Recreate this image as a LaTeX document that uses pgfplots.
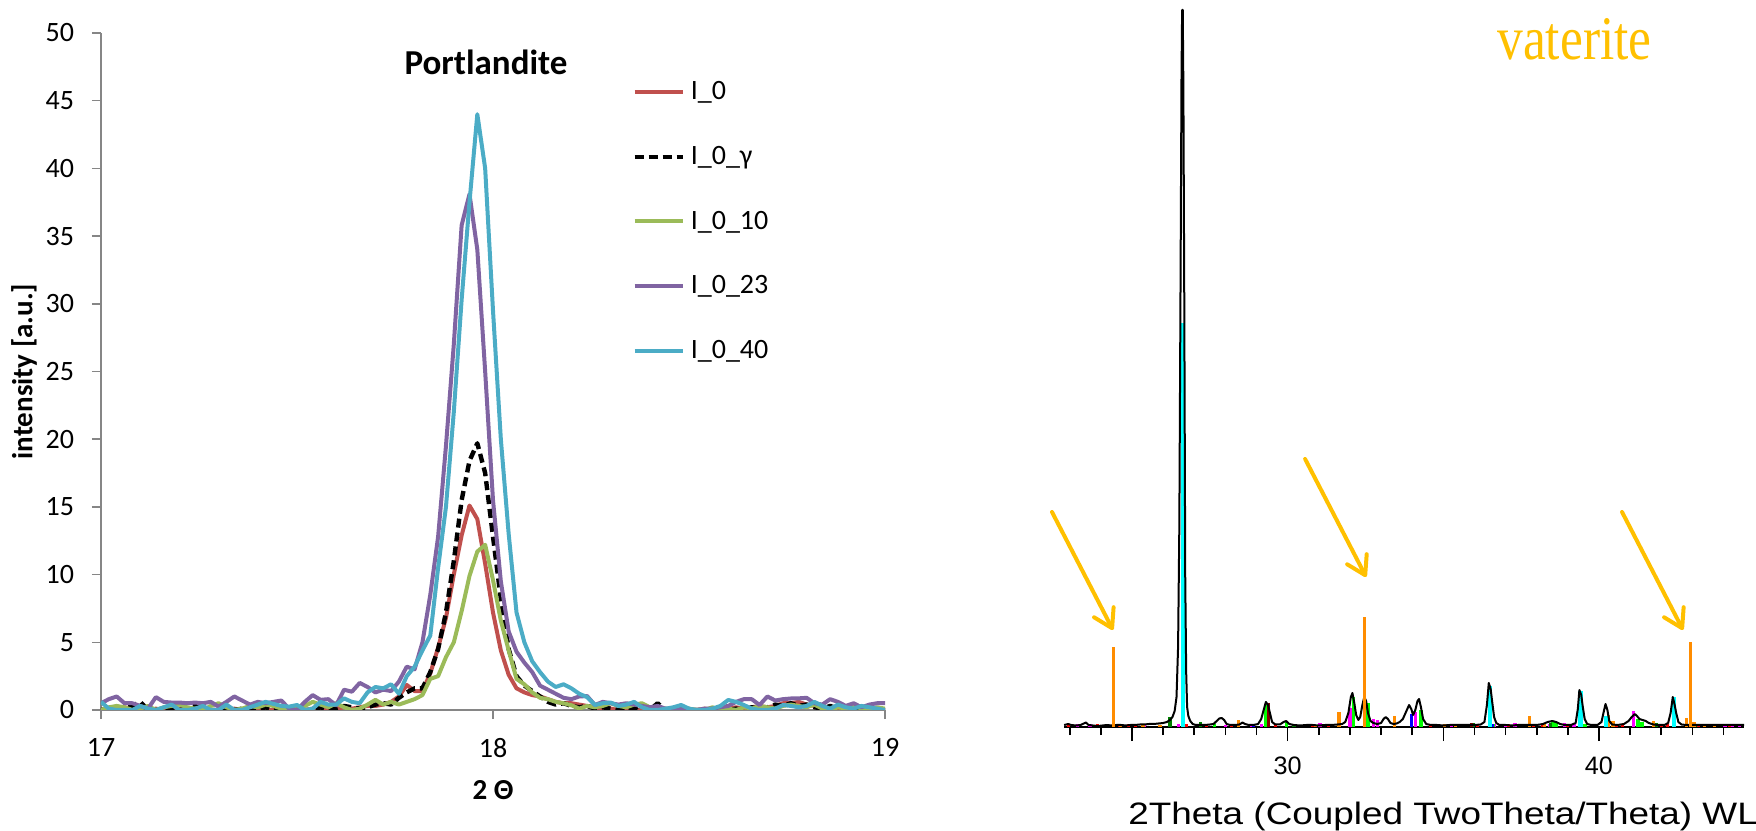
\documentclass[border=0pt]{standalone}
\usepackage{pgfplots}
\pgfplotsset{compat=1.18}
\usepackage{pgfplotstable}
\usepackage{graphicx}
\usepackage{fontspec}
\setmainfont{Carlito}
\newfontfamily\arialf{Liberation Sans}
\newfontfamily\seriff{Liberation Serif}
\usetikzlibrary{arrows.meta}
\definecolor{xlred}{HTML}{C0504D}
\definecolor{xlgreen}{HTML}{9BBB59}
\definecolor{xlpurple}{HTML}{8064A2}
\definecolor{xlcyan}{HTML}{4BACC6}
\definecolor{axgray}{HTML}{868686}
\definecolor{amber}{HTML}{FFC000}
\definecolor{stickorange}{HTML}{FF8C00}
\definecolor{dgreen}{HTML}{008000}
\definecolor{dred}{HTML}{800000}
\definecolor{scyan}{HTML}{00FFFF}
\definecolor{smagenta}{HTML}{FF00FF}
\definecolor{sgreen}{HTML}{00FF00}
\definecolor{sred}{HTML}{FF0000}
\definecolor{sblue}{HTML}{0000FF}

\pgfplotstableread{
x r k g p c
17.00 0.0 0.0 0.0 0.5 0.6
17.02 0.1 0.1 0.2 0.8 0.1
17.04 0.0 0.0 0.3 1.0 0.0
17.06 0.2 0.2 0.2 0.5 0.0
17.08 0.1 0.3 0.0 0.5 0.0
17.10 0.0 0.6 0.1 0.3 0.3
17.12 0.0 0.0 0.3 0.1 0.1
17.14 0.1 0.0 0.0 0.95 0.0
17.16 0.0 0.1 0.2 0.6 0.2
17.18 0.0 0.0 0.3 0.55 0.4
17.20 0.1 0.0 0.4 0.55 0.0
17.22 0.0 0.1 0.2 0.5 0.0
17.24 0.0 0.3 0.1 0.55 0.1
17.26 0.2 0.0 0.0 0.5 0.3
17.28 0.0 0.0 0.3 0.6 0.0
17.30 0.0 0.0 0.5 0.25 0.0
17.32 0.0 0.2 0.2 0.6 0.4
17.34 0.1 0.0 0.0 1.0 0.0
17.36 0.0 0.1 0.1 0.7 0.0
17.38 0.0 0.0 0.3 0.4 0.2
17.40 0.1 0.0 0.2 0.6 0.4
17.42 0.0 0.2 0.4 0.5 0.6
17.44 0.0 0.0 0.3 0.6 0.45
17.46 0.0 0.0 0.1 0.7 0.3
17.48 0.1 0.0 0.0 0.1 0.25
17.50 0.0 0.1 0.1 0.0 0.37
17.52 0.0 0.0 0.3 0.6 0.0
17.54 0.1 0.0 0.6 1.1 0.1
17.56 0.0 0.2 0.4 0.75 0.6
17.58 0.0 0.0 0.2 0.8 0.4
17.60 0.1 0.1 0.5 0.35 0.4
17.62 0.2 0.3 0.2 1.5 0.86
17.64 0.1 0.2 0.0 1.35 0.6
17.66 0.2 0.1 0.1 2.0 0.5
17.68 0.3 0.2 0.4 1.7 1.3
17.70 0.3 0.4 0.75 1.3 1.7
17.72 0.4 0.5 0.4 1.5 1.6
17.74 0.6 0.4 0.6 1.4 1.9
17.76 1.0 0.9 0.4 2.1 1.2
17.78 1.85 1.3 0.6 3.2 2.5
17.80 1.4 1.6 0.8 3.0 3.2
17.82 1.4 1.6 1.1 5.0 4.4
17.84 2.7 2.8 2.3 8.5 5.5
17.86 4.6 4.5 2.5 12.8 10.5
17.88 6.8 7.2 3.9 19.5 15.0
17.90 10.0 11.0 5.0 27.0 22.0
17.92 12.9 15.5 7.3 35.8 30.3
17.94 15.1 18.4 9.9 38.1 37.5
17.96 14.1 19.7 11.7 34.0 44.0
17.98 10.8 17.5 12.2 25.0 40.0
18.00 7.2 12.8 9.6 15.5 29.5
18.02 4.4 8.2 6.6 9.5 20.0
18.04 2.6 4.5 4.4 5.8 13.0
18.06 1.6 2.5 2.3 4.3 7.2
18.08 1.3 1.8 1.9 3.5 5.0
18.10 1.1 1.4 1.3 2.8 3.6
18.12 1.0 1.0 0.9 1.8 2.8
18.14 0.8 0.6 0.8 1.5 2.1
18.16 0.6 0.4 0.6 1.2 1.7
18.18 0.5 0.5 0.5 0.9 1.9
18.20 0.5 0.3 0.35 0.8 1.6
18.22 0.4 0.2 0.1 1.0 1.2
18.24 0.3 0.3 0.3 1.03 0.95
18.26 0.2 0.1 0.2 0.37 0.37
18.28 0.1 0.2 0.3 0.6 0.5
18.30 0.1 0.1 0.5 0.5 0.55
18.32 0.0 0.0 0.3 0.4 0.3
18.34 0.1 0.2 0.2 0.5 0.4
18.36 0.0 0.1 0.4 0.4 0.6
18.38 0.0 0.4 0.5 0.3 0.2
18.40 0.0 0.0 0.2 0.2 0.0
18.42 0.1 0.5 0.0 0.3 0.0
18.44 0.0 0.0 0.1 0.1 0.1
18.46 0.0 0.0 0.0 0.0 0.2
18.48 0.0 0.1 0.0 0.1 0.37
18.50 0.0 0.0 0.1 0.0 0.1
18.52 0.0 0.0 0.0 0.0 0.0
18.54 0.1 0.0 0.0 0.1 0.0
18.56 0.0 0.1 0.2 0.1 0.1
18.58 0.0 0.0 0.0 0.2 0.3
18.60 0.1 0.0 0.1 0.3 0.74
18.62 0.2 0.1 0.0 0.6 0.6
18.64 0.1 0.0 0.2 0.8 0.37
18.66 0.2 0.2 0.1 0.8 0.1
18.68 0.3 0.1 0.3 0.37 0.0
18.70 0.2 0.2 0.2 1.0 0.0
18.72 0.3 0.4 0.1 0.7 0.1
18.74 0.5 0.3 0.3 0.8 0.37
18.76 0.5 0.5 0.4 0.85 0.3
18.78 0.6 0.3 0.3 0.86 0.2
18.80 0.4 0.4 0.2 0.9 0.3
18.82 0.3 0.2 0.4 0.5 0.6
18.84 0.2 0.1 0.1 0.4 0.3
18.86 0.1 0.3 0.0 0.8 0.1
18.88 0.0 0.1 0.2 0.6 0.4
18.90 0.1 0.0 0.1 0.3 0.2
18.92 0.0 0.1 0.3 0.5 0.1
18.94 0.0 0.0 0.1 0.2 0.3
18.96 0.1 0.2 0.0 0.4 0.2
18.98 0.0 0.0 0.2 0.5 0.1
19.00 0.0 0.0 0.1 0.5 0.0
}\portdata

\begin{document}
\begin{tikzpicture}
\path[use as bounding box] (0,0) rectangle (878bp,415.5bp);
% ---------------- left: Portlandite ----------------
\begin{axis}[
  at={(50.5bp,60.5bp)}, anchor=south west, scale only axis,
  width=392bp, height=338.5bp,
  xmin=17, xmax=19, ymin=0, ymax=50,
  axis x line*=bottom, axis y line*=left,
  axis line style={-, draw=axgray, line width=0.75bp},
  tick style={draw=axgray, line width=0.75bp},
  tick align=outside, major tick length=4.5bp,
  xtick={17,18,19}, ytick={0,5,...,50}, minor tick num=0,
  tick label style={font=\fontsize{14bp}{16bp}\selectfont},
  xticklabel style={yshift=-6bp},
  yticklabel style={xshift=-5.5bp},
  /pgf/number format/assume math mode=true,
  xlabel={2 Θ}, ylabel={intensity [a.u.]},
  label style={font=\bfseries\fontsize{14.5bp}{16bp}\selectfont},
  xlabel style={at={(axis description cs:0.5,-0.118)}, anchor=center},
  ylabel style={at={(axis description cs:-0.098,0.5)}, anchor=center},
  legend style={draw=none, fill=none, at={(0.6697,0.935)}, anchor=north west,
    font=\fontsize{14bp}{16bp}\selectfont, row sep=21.8bp,
    nodes={inner sep=0pt}, /tikz/every odd column/.style={column sep=3bp}},
  legend cell align=left,
  legend image code/.code={\draw[#1] (0bp,0bp) -- (24bp,0bp);},
  every axis plot/.append style={line width=2bp, line join=round},
]
\addplot[xlred] table[x=x,y=r] {\portdata};
\addlegendentry{I\_0}
\addplot[black, line width=2.2bp, dash pattern=on 4.5bp off 2.5bp] table[x=x,y=k] {\portdata};
\addlegendentry{I\_0\_γ}
\addplot[xlgreen] table[x=x,y=g] {\portdata};
\addlegendentry{I\_0\_10}
\addplot[xlpurple] table[x=x,y=p] {\portdata};
\addlegendentry{I\_0\_23}
\addplot[xlcyan] table[x=x,y=c] {\portdata};
\addlegendentry{I\_0\_40}
\end{axis}
\node[font=\bfseries\fontsize{17.5bp}{19bp}\selectfont] at (243bp,384.5bp) {Portlandite};

% ---------------- right: XRD pattern ----------------
\begin{axis}[
  at={(532bp,52bp)}, anchor=south west, scale only axis,
  width=340bp, height=363.5bp,
  xmin=22.816, xmax=44.658, ymin=0, ymax=727,
  axis x line*=bottom, axis y line=none, ytick=\empty,
  x axis line style={-, line width=1.2bp},
  clip=false,
  xtick={30,40}, extra x ticks={25,35}, extra x tick labels={},
  minor xtick={23,24,...,44},
  tick align=outside, major tick length=7bp, minor tick length=4bp,
  every tick/.style={black, line width=0.8bp},
  xticklabel style={font=\arialf\fontsize{12.6bp}{14bp}\selectfont, yshift=-4.3bp},
  /pgf/number format/assume math mode=true,
]
% small reference sticks
\addplot[ycomb, sred, line width=1.5bp] coordinates {
(22.95,3) (23.9,3) (24.6,3) (24.9,3) (25.1,3) (26.75,3) (27.4,3) (28.2,3) (29.6,3)
(30.8,3) (31.3,3) (34.6,3) (36.1,3) (37.1,3) (37.9,3) (38.2,3) (39.0,3) (40.55,3)
(40.75,3) (42.0,3) (42.2,3) (43.2,3) (43.4,3) (44.2,3)};
\addplot[ycomb, smagenta, line width=1.6bp] coordinates {
(23.25,3) (23.65,3) (25.4,3) (26.5,3) (28.0,2) (28.85,3) (29.17,3) (31.04,4)
(32.0,19) (32.52,20) (32.75,8) (32.88,7) (34.1,15) (35.25,3) (36.65,3) (37.0,3)
(37.3,4) (38.4,3) (38.9,4) (39.2,4) (41.1,16) (41.4,5) (44.05,3) (44.3,3) (44.5,3)};
\addplot[ycomb, sgreen, line width=1.6bp] coordinates {
(27.65,3) (29.28,22) (29.95,6) (32.12,30) (32.58,24) (34.28,17) (36.6,3) (38.5,6)
(38.62,5) (39.55,3) (41.25,8) (41.38,5)};
\addplot[ycomb, dgreen, line width=1.6bp] coordinates {
(26.22,10) (27.2,5) (30.2,2) (35.95,4) (38.45,4) (41.85,4) (43.1,3)};
\addplot[ycomb, dred, line width=1.6bp] coordinates {(29.38,24) (35.9,4)};
\addplot[ycomb, sblue, line width=1.6bp] coordinates {(28.9,3) (33.98,13) (36.58,3)};
\addplot[ycomb, stickorange, line width=1.6bp] coordinates {
(24.62,3) (25.35,3) (25.9,2) (28.42,7) (30.9,2) (31.65,15) (33.44,11) (35.05,3)
(35.4,3) (37.78,11) (38.25,4) (40.3,12) (40.45,6) (41.75,6) (42.82,9) (43.05,5)
(43.4,3) (43.7,3)};
\addplot[ycomb, scyan, line width=2.2bp] coordinates {
(26.64,404) (36.50,41) (39.40,36) (40.22,11) (42.40,30)};
% measured pattern
\addplot[black, line width=1bp, line join=round] coordinates {
(22.82,2) (22.95,3) (23.05,2) (23.2,1.5) (23.35,2) (23.45,3.5) (23.52,4.5) (23.6,2)
(23.75,1.5) (23.9,1) (24.05,1.5) (24.2,2) (24.35,1.5) (24.5,2) (24.65,2) (24.8,1.5)
(24.95,2) (25.1,2) (25.25,2.5) (25.4,2.5) (25.55,3) (25.7,3) (25.85,3.5) (26.0,4)
(26.12,5) (26.22,7) (26.3,10) (26.37,16) (26.43,30) (26.48,80) (26.52,200) (26.56,450)
(26.59,650) (26.61,717) (26.63,717) (26.65,640) (26.68,420) (26.71,150) (26.74,55)
(26.77,20) (26.81,11) (26.87,6) (26.95,3) (27.05,2) (27.2,2) (27.35,2) (27.5,2.5)
(27.62,3) (27.72,6) (27.8,8.5) (27.88,9) (27.96,7) (28.04,3) (28.15,2) (28.3,2)
(28.45,2.5) (28.55,4.5) (28.63,3) (28.75,2) (28.9,2) (29.05,3) (29.15,8) (29.22,16)
(29.3,25) (29.37,22) (29.43,14) (29.5,5) (29.6,2.5) (29.75,2.5) (29.87,5) (29.95,6)
(30.05,3) (30.2,2) (30.4,1.5) (30.6,2) (30.8,2) (31.0,1.5) (31.2,2) (31.4,2) (31.6,2.5)
(31.75,3) (31.85,5) (31.95,14) (32.03,30) (32.08,34) (32.14,24) (32.2,12) (32.27,7)
(32.33,10) (32.4,22) (32.46,30) (32.52,26) (32.58,14) (32.66,6) (32.75,4) (32.88,3)
(33.0,4) (33.08,8) (33.15,10) (33.22,8) (33.3,4) (33.4,3) (33.5,3.5) (33.6,5) (33.7,8)
(33.8,15) (33.9,22) (33.97,18) (34.03,12) (34.1,17) (34.17,26) (34.22,28) (34.28,20)
(34.35,8) (34.45,3) (34.6,2) (34.8,2) (35.0,1.5) (35.2,2) (35.4,2) (35.6,2) (35.8,2)
(36.0,2) (36.2,2.5) (36.32,5) (36.4,22) (36.46,44) (36.52,38) (36.57,25) (36.63,10)
(36.7,4) (36.8,2) (37.0,2) (37.2,1.5) (37.4,2) (37.6,2) (37.8,2) (38.0,2) (38.2,3)
(38.35,5) (38.5,6) (38.62,5) (38.75,3) (38.9,2) (39.1,2) (39.25,4) (39.32,18) (39.37,37)
(39.43,32) (39.48,20) (39.54,8) (39.62,3) (39.75,2) (39.95,2) (40.08,5) (40.15,15)
(40.21,23) (40.27,17) (40.33,6) (40.42,2.5) (40.6,2) (40.8,3) (40.95,6) (41.05,10)
(41.15,13) (41.22,11) (41.3,8) (41.4,7) (41.5,6) (41.6,4) (41.75,2.5) (41.9,2) (42.1,2)
(42.22,4) (42.3,14) (42.37,30) (42.43,22) (42.48,14) (42.55,5) (42.65,2.5) (42.8,2)
(43.0,2) (43.3,2) (43.6,2) (43.9,2) (44.2,2) (44.5,2) (44.658,2)};
% vaterite reference lines
\addplot[ycomb, stickorange, line width=1.5bp] coordinates {(24.42,80) (32.47,110) (42.93,85)};
% arrows
\draw[amber, line width=2bp, line cap=round, -{Straight Barb[length=9bp,width=11bp,round]}] (axis cs:22.43,215) -- (axis cs:24.39,97);
\draw[amber, line width=2bp, line cap=round, -{Straight Barb[length=9bp,width=11bp,round]}] (axis cs:30.56,268) -- (axis cs:32.52,150);
\draw[amber, line width=2bp, line cap=round, -{Straight Barb[length=9bp,width=11bp,round]}] (axis cs:40.74,215) -- (axis cs:42.70,97);
\end{axis}
\node[anchor=base west, inner sep=0pt, font=\arialf\fontsize{15.5bp}{17bp}\selectfont] at (564bp,3.5bp) {\scalebox{1.19}[1]{2Theta (Coupled TwoTheta/Theta) WL}};
\node[anchor=base west, inner sep=0pt, text=amber, font=\seriff\fontsize{31bp}{33bp}\selectfont] at (748.5bp,385.5bp) {\scalebox{0.83}[1]{vaterite}};
\end{tikzpicture}
\end{document}
